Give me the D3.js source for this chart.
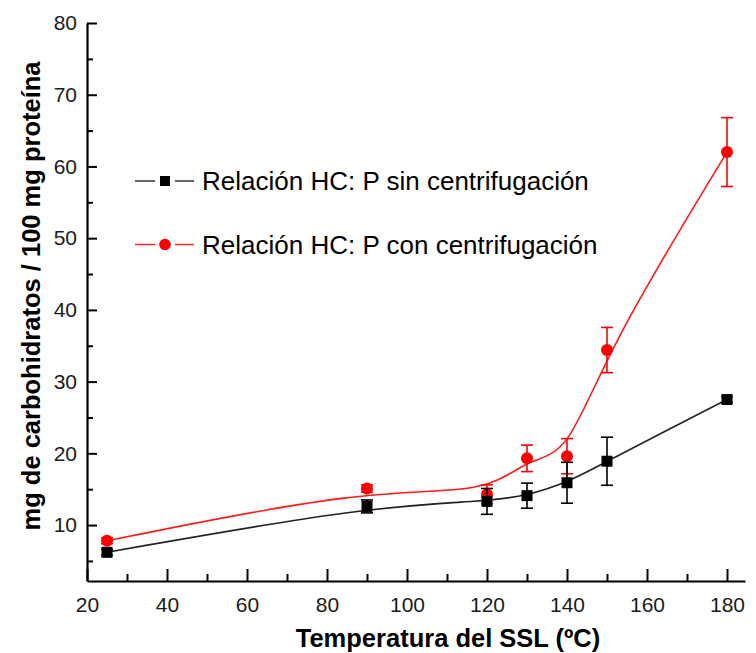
<!DOCTYPE html>
<html>
<head>
<meta charset="utf-8">
<script src="https://cdn.jsdelivr.net/npm/d3@7/dist/d3.min.js"></script>
<style>
  html, body { margin: 0; padding: 0; background: #fff; }
  svg { display: block; font-family: "Liberation Sans", Arial, sans-serif; }
</style>
</head>
<body>
<svg id="chart" width="756" height="653"></svg>
<script>
// ---- data ----
const temperatures = [25, 90, 120, 130, 140, 150, 180];
const sinCentrifugacion = [6.2, 12.6, 13.3, 14.1, 15.9, 18.9, 27.5];
const sinError = [0.4, 0.9, 1.8, 1.75, 2.85, 3.35, 0.4];
const conCentrifugacion = [7.8, 15.1, 14.3, 19.3, 19.6, 34.4, 62.0];
const conError = [0.4, 0.5, 1.3, 1.85, 2.45, 3.15, 4.8];
const seriesNames = ["Relación HC: P sin centrifugación", "Relación HC: P con centrifugación"];
const xTickValues = [20, 40, 60, 80, 100, 120, 140, 160, 180];
const yTickValues = [10, 20, 30, 40, 50, 60, 70, 80];
const xTitle = "Temperatura del SSL (ºC)";
const yTitle = "mg de carbohidratos / 100 mg proteína";

const svg = d3.select("#chart");
const x = d3.scaleLinear().domain([20, 184.5]).range([87, 745]);
const y = d3.scaleLinear().domain([2.2, 80]).range([581, 23]);

// axes
const gx = svg.append("g").attr("transform", `translate(0,${y.range()[0]})`);
gx.call(d3.axisBottom(x).tickValues(d3.range(30, 181, 20)).tickSize(-7).tickFormat(""));
gx.call(g => g.select(".domain").remove());
const gx2 = svg.append("g").attr("transform", `translate(0,${y.range()[0]})`);
gx2.call(d3.axisBottom(x).tickValues(xTickValues).tickSize(-12).tickSizeOuter(0).tickPadding(16));

const gy = svg.append("g").attr("transform", `translate(${x.range()[0]},0)`);
gy.call(d3.axisLeft(y).tickValues(d3.range(5, 80, 10)).tickSize(-6).tickFormat(""));
gy.call(g => g.select(".domain").remove());
const gy2 = svg.append("g").attr("transform", `translate(${x.range()[0]},0)`);
gy2.call(d3.axisLeft(y).tickValues(yTickValues).tickSize(-10).tickSizeOuter(0).tickPadding(10));

svg.selectAll(".tick line").attr("stroke", "#000").attr("stroke-width", 2);
svg.selectAll(".domain").attr("stroke", "#000").attr("stroke-width", 2.2);
svg.selectAll("g").attr("font-size", 21).attr("font-family", "'Liberation Sans', Arial, sans-serif");
svg.selectAll(".tick text").attr("font-size", 21).attr("fill", "#1a1a1a");

// titles
svg.append("text").attr("x", 448).attr("y", 647).attr("text-anchor", "middle")
  .attr("font-size", 25.5).attr("font-weight", "bold").attr("fill", "#000").text(xTitle);
svg.append("text").attr("transform", "translate(40,296) rotate(-90)").attr("text-anchor", "middle")
  .attr("font-size", 25.5).attr("font-weight", "bold").attr("fill", "#000").text(yTitle);

// series (red drawn first so black sits on top, as in the reference)
const series = [
  { vals: sinCentrifugacion, err: sinError, color: "#000", line: "#222", shape: "square" },
  { vals: conCentrifugacion, err: conError, color: "#ff0000", line: "#ff1a1a", shape: "circle" }
];
const lineGen = d3.line().x(d => x(d[0])).y(d => y(d[1])).curve(d3.curveBasis);

[series[1], series[0]].forEach(s => {
  const pts = temperatures.map((t, i) => [t, s.vals[i], s.err[i]]);
  svg.append("path").datum(pts).attr("d", lineGen).attr("fill", "none")
    .attr("stroke", s.line).attr("stroke-width", 1.6);
  const eb = svg.append("g").attr("stroke", s.color).attr("stroke-width", 1.6);
  pts.forEach(p => {
    const cx = x(p[0]), y1 = y(p[1] + p[2]), y2 = y(p[1] - p[2]);
    eb.append("line").attr("x1", cx).attr("x2", cx).attr("y1", y1).attr("y2", y2);
    eb.append("line").attr("x1", cx - 6).attr("x2", cx + 6).attr("y1", y1).attr("y2", y1);
    eb.append("line").attr("x1", cx - 6).attr("x2", cx + 6).attr("y1", y2).attr("y2", y2);
  });
  pts.forEach(p => {
    if (s.shape === "square") {
      svg.append("rect").attr("x", x(p[0]) - 5.5).attr("y", y(p[1]) - 5.5)
        .attr("width", 11).attr("height", 11).attr("fill", s.color);
    } else {
      svg.append("circle").attr("cx", x(p[0])).attr("cy", y(p[1])).attr("r", 6).attr("fill", s.color);
    }
  });
});

// legend
const legendY = [181, 244.5];
series.forEach((s, i) => {
  const ly = legendY[i];
  svg.append("line").attr("x1", 135).attr("x2", 155).attr("y1", ly).attr("y2", ly)
    .attr("stroke", s.line).attr("stroke-width", 1.4);
  svg.append("line").attr("x1", 175).attr("x2", 194).attr("y1", ly).attr("y2", ly)
    .attr("stroke", s.line).attr("stroke-width", 1.4);
  if (s.shape === "square") {
    svg.append("rect").attr("x", 160).attr("y", ly - 5).attr("width", 10).attr("height", 10).attr("fill", s.color);
  } else {
    svg.append("circle").attr("cx", 165).attr("cy", ly).attr("r", 5.8).attr("fill", s.color);
  }
  svg.append("text").attr("x", 202).attr("y", ly + 9).attr("font-size", 26)
    .attr("fill", "#000").text(seriesNames[i]);
});
</script>
</body>
</html>
